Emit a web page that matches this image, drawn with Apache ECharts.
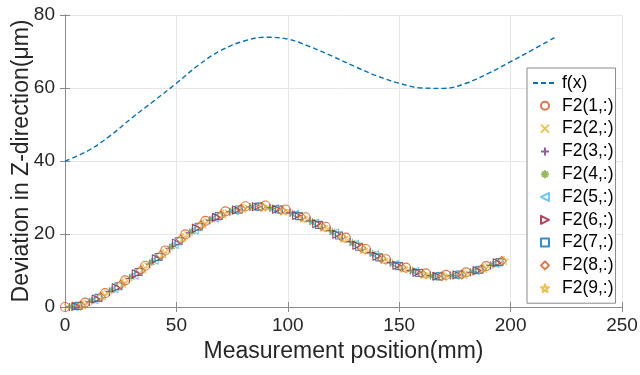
<!DOCTYPE html>
<html><head><meta charset="utf-8">
<script src="https://cdn.jsdelivr.net/npm/echarts@6/dist/echarts.min.js"></script>
<style>html,body{margin:0;padding:0;background:#fff}#c{width:640px;height:375px}</style>
</head><body><div id="c"></div>
<script>
// reference curve f(x)
const fX = [0,10,20,30,40,50,60,70,80,90,100,110,120,130,140,150,160,170,180,190,200,210,220];
const fY = [40,42.7,46.8,51.8,56.5,61.3,66.3,70.3,72.8,73.9,73.4,71.3,68.7,65.9,63.3,61.3,60.0,59.9,61.3,64.0,67.2,70.5,73.9];

// measurement positions: base position of each group and offset of each row F2(k,:)
const sampleBase = [0,9,18,27,36,45,54,63,72,81,90,99,108,117,126,135,144,153,162,171,180,189];
const sampleOffset = [0,1,2,3,4,5,6,7,8];

const F2_1 = [0.0,1.2,3.8,7.3,11.3,15.5,19.9,23.6,26.2,27.6,27.8,26.7,24.6,22.0,19.0,15.9,13.1,10.8,9.2,8.8,9.5,11.2];
const F2_2 = [0.0,1.1,3.8,7.3,11.4,15.6,19.9,23.5,26.0,27.3,27.3,26.1,23.9,21.3,18.3,15.2,12.4,10.2,8.7,8.5,9.3,11.1];
const F2_3 = [0.0,1.4,4.2,7.8,11.8,16.1,20.3,23.8,26.1,27.4,27.2,25.8,23.6,20.9,17.9,14.9,12.2,10.0,8.6,8.6,9.5,11.4];
const F2_4 = [0.1,1.7,4.6,8.2,12.3,16.6,20.7,24.1,26.3,27.4,27.0,25.6,23.3,20.6,17.6,14.6,11.9,9.9,8.5,8.6,9.7,11.6];
const F2_5 = [0.1,2.0,5.0,8.7,12.8,17.1,21.1,24.4,26.4,27.5,26.9,25.4,23.0,20.3,17.2,14.3,11.7,9.7,8.5,8.7,9.9,11.9];
const F2_6 = [0.2,2.2,5.3,9.1,13.2,17.5,21.6,24.6,26.6,27.5,26.8,25.1,22.8,19.9,16.9,13.9,11.4,9.5,8.4,8.8,10.0,12.1];
const F2_7 = [0.3,2.5,5.7,9.6,13.7,18.0,22.0,24.9,26.7,27.5,26.7,24.9,22.5,19.6,16.5,13.6,11.2,9.3,8.4,8.9,10.2,12.3];
const F2_8 = [0.4,2.8,6.1,10.0,14.2,18.5,22.4,25.2,26.9,27.5,26.5,24.7,22.2,19.3,16.2,13.3,10.9,9.2,8.4,8.9,10.4,12.6];
const F2_9 = [0.6,3.1,6.5,10.5,14.6,19.0,22.8,25.5,27.0,27.4,26.4,24.4,21.9,18.9,15.8,13.0,10.7,9.0,8.4,9.0,10.6,12.8];

const seriesNames = ['F2(1,:)','F2(2,:)','F2(3,:)','F2(4,:)','F2(5,:)','F2(6,:)','F2(7,:)','F2(8,:)','F2(9,:)'];
const seriesValues = [F2_1,F2_2,F2_3,F2_4,F2_5,F2_6,F2_7,F2_8,F2_9];

const xTickMin = 0, xTickMax = 250, xTickStep = 50;
const yTickMin = 0, yTickMax = 80, yTickStep = 20;

const FONT = '"Liberation Sans", Arial, Helvetica, sans-serif';
const markers = [
  {symbol:'circle', size:9, color:'#D95319', w:1.1},
  {symbol:'path://M0,0L10,10M10,0L0,10', size:6, color:'#EDB120', w:1.1},
  {symbol:'path://M5,0L5,10M0,5L10,5', size:8, color:'#7E2F8E', w:1.1},
  {symbol:'path://M5,0L5,10M0,5L10,5M1.5,1.5L8.5,8.5M8.5,1.5L1.5,8.5', size:8, color:'#77AC30', w:1.1},
  {symbol:'path://M10,0L0,5L10,10Z', size:8, color:'#4DBEEE', w:1.1},
  {symbol:'path://M0,0L10,5L0,10Z', size:8, color:'#A2142F', w:1.1},
  {symbol:'path://M0,0L10,0L10,10L0,10Z', size:7, color:'#0072BD', w:1.1},
  {symbol:'path://M5,0L10,5L5,10L0,5Z', size:9, color:'#D95319', w:1.1},
  {symbol:'path://M50,0L62,38L100,38L69,61L81,100L50,76L19,100L31,61L0,38L38,38Z', size:9, color:'#EDB120', w:0.9}
];

const series = [{
  name:'f(x)', type:'line', smooth:0.4, symbol:'circle', showSymbol:false, symbolSize:0,
  data: fX.map((x,i)=>[x,fY[i]]),
  lineStyle:{color:'#0072BD', width:1.4, type:[5,3]},
  itemStyle:{color:'rgba(0,0,0,0)', borderWidth:0}
}];
seriesValues.forEach((vals,k)=>{
  const m = markers[k];
  series.push({
    name: seriesNames[k], type:'scatter',
    symbol: m.symbol, symbolSize: m.size, symbolKeepAspect:true,
    data: vals.map((v,j)=>[sampleBase[j]+sampleOffset[k], v]),
    itemStyle:{color:'rgba(0,0,0,0)', borderColor:m.color, borderWidth:m.w, borderJoin:'round'}
  });
});

const chart = echarts.init(document.getElementById('c'), null, {renderer:'canvas'});
chart.setOption({
  animation:false,
  backgroundColor:'#fff',
  grid:{left:65, right:18, top:15, bottom:68, containLabel:false, outerBoundsMode:'none'},
  legend:{
    orient:'vertical', left:527, top:68,
    padding:[6,2,6,5], itemWidth:24, itemHeight:8, itemGap:4.8,
    backgroundColor:'#fff', borderColor:'#8a8a8a', borderWidth:1,
    textStyle:{fontSize:17.5, lineHeight:18, color:'#000', fontFamily:FONT},
    data:['f(x)'].concat(seriesNames)
  },
  xAxis:[{
    type:'value', min:xTickMin, max:xTickMax, interval:xTickStep,
    name:'Measurement position(mm)', nameLocation:'middle', nameGap:33, nameMoveOverlap:false,
    nameTextStyle:{fontSize:23, color:'#262626', fontFamily:FONT},
    axisLine:{lineStyle:{color:'#8a8a8a'}},
    axisTick:{inside:true, length:5, lineStyle:{color:'#8a8a8a'}},
    axisLabel:{fontSize:19, color:'#262626', margin:9, fontFamily:FONT},
    splitLine:{show:true, lineStyle:{color:'#e6e6e6'}}
  },{
    type:'value', position:'top', min:xTickMin, max:xTickMax, interval:xTickStep,
    axisLine:{show:true, lineStyle:{color:'#8a8a8a'}},
    axisTick:{show:true, inside:true, length:5, lineStyle:{color:'#8a8a8a'}},
    axisLabel:{show:false}, splitLine:{show:false}
  }],
  yAxis:[{
    type:'value', min:yTickMin, max:yTickMax, interval:yTickStep,
    name:'Deviation in Z-direction(μm)', nameLocation:'middle', nameGap:32, nameMoveOverlap:false,
    nameTextStyle:{fontSize:23, color:'#262626', fontFamily:FONT},
    axisLine:{show:true, lineStyle:{color:'#8a8a8a'}},
    axisTick:{show:true, inside:true, length:5, lineStyle:{color:'#8a8a8a'}},
    axisLabel:{fontSize:19, color:'#262626', margin:10, fontFamily:FONT},
    splitLine:{show:true, lineStyle:{color:'#e6e6e6'}}
  },{
    type:'value', position:'right', min:yTickMin, max:yTickMax, interval:yTickStep,
    axisLine:{show:true, lineStyle:{color:'#8a8a8a'}},
    axisTick:{show:true, inside:true, length:5, lineStyle:{color:'#8a8a8a'}},
    axisLabel:{show:false}, splitLine:{show:false}
  }],
  series: series
});
</script>
</body></html>
